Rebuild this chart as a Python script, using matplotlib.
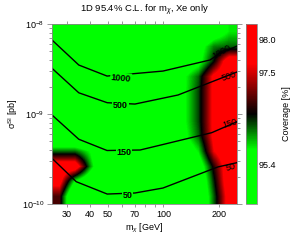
import numpy as np
import matplotlib
matplotlib.use("Agg")
import matplotlib.pyplot as plt
from matplotlib.colors import LinearSegmentedColormap, FuncNorm
from matplotlib.ticker import (FixedLocator, FixedFormatter, LogFormatterSciNotation,
                               NullFormatter, NullLocator)

plt.rcParams["font.family"] = ["Liberation Sans", "DejaVu Sans"]
plt.rcParams["mathtext.fontset"] = "custom"
plt.rcParams["mathtext.rm"] = "Liberation Sans"
plt.rcParams["mathtext.it"] = "Liberation Sans:italic"
plt.rcParams["mathtext.bf"] = "Liberation Sans:bold"

# ── データ ──────────────────────────────────────────────────────────────────
m_range = [25.0, 250.0]          # GeV
sigma_range = [1e-10, 1e-8]      # pb

# coverage [%] on a 12 x 12 grid, equal log steps
# rows: sigma from 1e-8 (top) down to 1e-10, cols: m from 25 to 250
G = 94.5
coverage_grid = [
    [G,    G,    G,    G, G, G, G, G, G,    G,    95.3,  95.9],
    [G,    G,    G,    G, G, G, G, G, G,    95.5, 96.3,  96.4],
    [G,    G,    G,    G, G, G, G, G, 95.2, 95.6, 96.7,  98.2],
    [G,    G,    G,    G, G, G, G, G, 95.7, 96.4, 97.8,  98.3],
    [G,    G,    G,    G, G, G, G, G, 95.7, 96.5, 97.8,  98.3],
    [G,    G,    G,    G, G, G, G, G, 95.7, 96.5, 97.8,  98.3],
    [G,    G,    G,    G, G, G, G, G, 95.7, 96.5, 97.8,  98.3],
    [G,    G,    G,    G, G, G, G, G, 95.6, 96.4, 97.8,  98.3],
    [96.4, 96.4, 95.8, G, G, G, G, G, 95.2, 95.9, 97.6,  98.3],
    [98.2, 98.2, 96.2, G, G, G, G, G, G,    95.3, 96.85, 98.2],
    [97.9, 95.8, 95.0, G, G, G, G, G, G,    95.0, 96.6,  98.2],
    [97.0, G,    G,    G, G, G, G, G, G,    94.8, 96.4,  98.0],
]

# event-number contours (m [GeV], sigma [pb])
contour_levels = ["1000", "500", "150", "50"]
line_1000_m = [25, 34.9, 49.6, 99.5, 178.6, 199.8, 250]
line_1000_s = [6.64e-9, 3.50e-9, 2.64e-9, 3.0e-9, 3.98e-9, 4.64e-9, 5.69e-9]
line_500_m = [25, 34.9, 49.7, 70.2, 120, 250]
line_500_s = [3.22e-9, 1.72e-9, 1.335e-9, 1.29e-9, 1.626e-9, 2.93e-9]
line_150_m = [25, 34.9, 49.6, 74.8, 102, 182.5, 250]
line_150_s = [9.75e-10, 5.24e-10, 3.93e-10, 3.98e-10, 4.64e-10, 6.2e-10, 8.21e-10]
line_50_m = [25, 33.8, 49.7, 70.2, 99.5, 197, 250]
line_50_s = [3.22e-10, 1.77e-10, 1.29e-10, 1.325e-10, 1.505e-10, 2.58e-10, 2.88e-10]

cbar_ticks = [95.4, 97.5, 98.0]
cbar_range = [94.04, 98.19]

x_ticks = [30, 40, 50, 60, 70, 80, 90, 100, 200]
x_ticklabels = ["30", "40", "50", "", "70", "", "", "100", "200"]
y_ticks = [1e-10, 1e-9, 1e-8]
y_minor_ticks = [k * 10.0 ** e for e in (-10, -9) for k in range(2, 10)]


# ── 描画 ──────────────────────────────────────────────────────────────────────
def cov_forward(p):
    return -np.log10(1.0 - np.asarray(p, dtype=float) / 100.0)


def cov_inverse(t):
    return 100.0 * (1.0 - 10.0 ** (-np.asarray(t, dtype=float)))


cmap = LinearSegmentedColormap.from_list(
    "gkr",
    [(0.0, "#00ff00"), (0.30, "#00ff00"), (0.50, "#000000"),
     (0.78, "#ff0000"), (1.0, "#ff0000")],
)
norm = FuncNorm((cov_forward, cov_inverse), vmin=cbar_range[0], vmax=cbar_range[1])

W, H = 296, 246
fig = plt.figure(figsize=(W / 100, H / 100), dpi=100)
ax = fig.add_axes([52 / W, 1 - 204 / H, 185 / W, 180 / H])

# grid is equally spaced in log(m), log(sigma) -> lay it over the axes box
im = ax.imshow(
    np.array(coverage_grid), cmap=cmap, norm=norm, origin="upper",
    extent=[0, 1, 0, 1], transform=ax.transAxes,
    aspect="auto", interpolation="bilinear", interpolation_stage="data",
    zorder=0,
)

ax.set_xscale("log")
ax.set_yscale("log")
ax.set_xlim(m_range)
ax.set_ylim(sigma_range)

lines = [
    (line_1000_m, line_1000_s),
    (line_500_m, line_500_s),
    (line_150_m, line_150_s),
    (line_50_m, line_50_s),
]
for lm, ls in lines:
    ax.plot(lm, ls, color="black", lw=1.0, solid_joinstyle="miter")

# inline labels (left, bold, break the line)
left_pos = [(59.0, 2.51e-9, -5), (58.6, 1.243e-9, 0), (61.2, 3.78e-10, 0), (64.0, 1.237e-10, 0)]
for lab, (xm, ys, rot) in zip(contour_levels, left_pos):
    ax.text(xm, ys, lab, fontsize=6.5, fontweight="bold",
            ha="center", va="center", rotation=rot,
            bbox=dict(facecolor="#00ff00", edgecolor="none", pad=0.6))

# labels at right edge (clipped)
right_pos = [(207, 4.89e-9, 30), (226, 2.64e-9, 18), (229, 7.74e-10, 16), (232, 2.58e-10, 16)]
for lab, (xm, ys, rot) in zip(contour_levels, right_pos):
    ax.text(xm, ys, lab, fontsize=6.5, ha="center", va="center", rotation=rot,
            clip_on=True)

ax.xaxis.set_major_locator(FixedLocator(x_ticks))
ax.xaxis.set_major_formatter(FixedFormatter(x_ticklabels))
ax.xaxis.set_minor_locator(NullLocator())
ax.yaxis.set_major_locator(FixedLocator(y_ticks))
ax.yaxis.set_major_formatter(LogFormatterSciNotation())
ax.yaxis.set_minor_locator(FixedLocator(y_minor_ticks))
ax.yaxis.set_minor_formatter(NullFormatter())
ax.tick_params(which="both", direction="out", top=True, right=True,
               labelsize=6.5, width=0.6, pad=2, color="#888888")
ax.tick_params(axis="x", which="major", length=2.5)
ax.tick_params(axis="y", which="major", length=3.5)
ax.tick_params(axis="y", which="minor", length=2.0)
for sp in ax.spines.values():
    sp.set_linewidth(0.6)
    sp.set_color("#888888")

ax.set_xlabel(r"m$_\chi$ [GeV]", fontsize=6.5, labelpad=2)
ax.set_ylabel(r"σ$^{\rm SI}$ [pb]", fontsize=6.5, labelpad=1)
fig.text(0.5 * (52 + 237) / W, 1 - 13 / H, r"1D 95.4% C.L. for m$_\chi$, Xe only",
         fontsize=6.8, ha="center", va="baseline")

cax = fig.add_axes([245.5 / W, 1 - 204 / H, 11 / W, 180 / H])
cb = fig.colorbar(im, cax=cax, ticks=cbar_ticks, format="%.1f")
cb.outline.set_linewidth(0.6)
cb.outline.set_edgecolor("#888888")
cax.tick_params(length=0, labelsize=6.5, pad=1.5)
cax.minorticks_off()
cb.set_label("Coverage [%]", fontsize=6.5, labelpad=4)

fig.savefig("out.png", dpi=100)
